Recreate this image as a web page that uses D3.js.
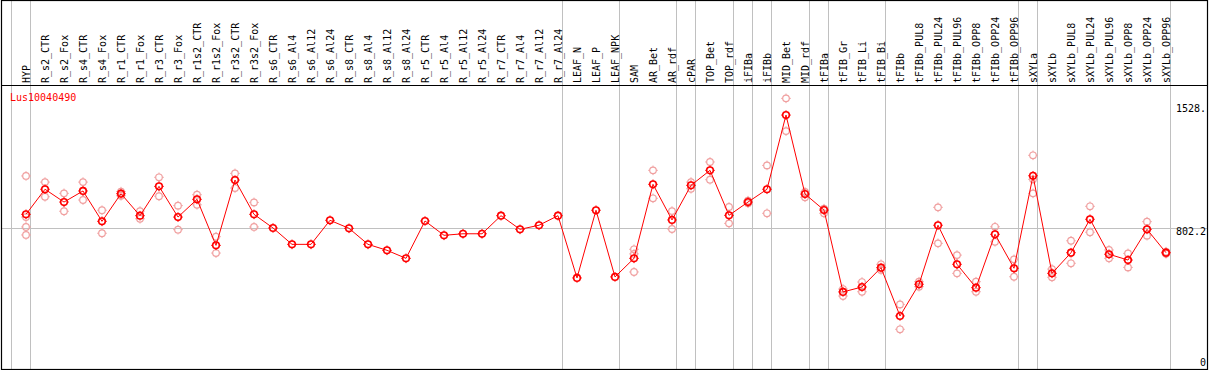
<!DOCTYPE html>
<html>
<head>
<meta charset="utf-8">
<script src="https://cdn.jsdelivr.net/npm/d3@7"></script>
<style>
  html, body { margin: 0; padding: 0; background: #fff; }
  svg { display: block; }
  text { font-family: "DejaVu Sans Mono", "Liberation Mono", monospace; }
</style>
</head>
<body>
<svg id="chart" width="1209" height="370"></svg>
<script>
const title = "Lus10040490";

const categories = ["HYP","R_s2_CTR","R_s2_Fox","R_s4_CTR","R_s4_Fox","R_r1_CTR","R_r1_Fox","R_r3_CTR","R_r3_Fox",
  "R_r1s2_CTR","R_r1s2_Fox","R_r3s2_CTR","R_r3s2_Fox","R_s6_CTR","R_s6_Al4","R_s6_Al12","R_s6_Al24",
  "R_s8_CTR","R_s8_Al4","R_s8_Al12","R_s8_Al24","R_r5_CTR","R_r5_Al4","R_r5_Al12","R_r5_Al24",
  "R_r7_CTR","R_r7_Al4","R_r7_Al12","R_r7_Al24","LEAF_N","LEAF_P","LEAF_NPK","SAM","AR_Bet","AR_rdf",
  "cPAR","TOP_Bet","TOP_rdf","iFIBa","iFIBb","MID_Bet","MID_rdf","tFIBa","tFIB_Gr","tFIB_Li","tFIB_Bi",
  "tFIBb","tFIBb_PUL8","tFIBb_PUL24","tFIBb_PUL96","tFIBb_OPP8","tFIBb_OPP24","tFIBb_OPP96",
  "sXYLa","sXYLb","sXYLb_PUL8","sXYLb_PUL24","sXYLb_PUL96","sXYLb_OPP8","sXYLb_OPP24","sXYLb_OPP96"];

const means = [884,1031,956,1021,843,1005,876,1048,868,
  972,702,1085,884,804,708,708,849,
  802,708,673,626,845,761,770,770,
  876,796,820,876,511,908,517,626,1060,851,
  1054,1142,878,956,1031,1466,1003,909,429,458,571,
  288,474,820,591,454,767,568,
  1110,538,659,855,650,616,796,659];

const replicates = [
  [1109,868,810,763],[1073,987],[1007,902],[1073,968],[908,773],[1017,993],[903,858],[1101,990],[935,794],
  [999,940],[753,657],[1124,1038],[954,810],[],[],[],[],
  [],[],[],[],[],[],[],[],
  [],[],[],[],[],[],[],[679,652,546],[1142,978],[903,798],
  [1073,1034],[1191,1087],[927,831],[964,949],[1171,890],[1564,1372],[1015,984],[917,890],[446,405],[487,430],[591,558],
  [356,210],[489,460],[925,714],[645,538],[489,430],[811,723],[620,518],
  [1230,1089,1007],[563,515],[729,597],[931,779],[675,626],[655,573],[841,759],[665,653]];

// indices of group boundaries (a separator is drawn before each of these columns)
const groupStarts = [0,1,29,32,35,36,38,39,40,42,43,46,53,54,61];

const tickValues = [0, 802.2, 1528];
const tickLabels = ["0", "802.2", "1528."];

(function draw() {
  const svg = d3.select("#chart");
  const fLeft = 1.5, fRight = 1207.5, fTop = 0.5, fBottom = 369.5, headerY = 85.5;

  const x = d3.scaleLinear().domain([0, categories.length - 1]).range([26, 1166]);
  const y = d3.scaleLinear().domain([0, 1528]).range([365.1, 104.5]);
  const crisp = v => Math.floor(v) + 0.5;

  // gray separators
  svg.append("g").selectAll("line").data(groupStarts).join("line")
    .attr("x1", d => crisp(x(d) - 14.5)).attr("x2", d => crisp(x(d) - 14.5))
    .attr("y1", 0).attr("y2", fBottom)
    .attr("stroke", "#c0c0c0").attr("stroke-width", 1);

  // horizontal grid at middle tick
  svg.append("g").selectAll("line").data(tickValues.filter(v => v > 0 && v < 1528)).join("line")
    .attr("x1", fLeft).attr("x2", fRight)
    .attr("y1", d => crisp(y(d))).attr("y2", d => crisp(y(d)))
    .attr("stroke", "#c0c0c0").attr("stroke-width", 1);

  // frame
  svg.append("rect").attr("x", fLeft).attr("y", fTop).attr("width", fRight - fLeft).attr("height", fBottom - fTop)
    .attr("fill", "none").attr("stroke", "#000").attr("stroke-width", 1.2);
  svg.append("line").attr("x1", fLeft).attr("x2", fRight).attr("y1", headerY).attr("y2", headerY)
    .attr("stroke", "#000").attr("stroke-width", 1.2);

  // category labels
  svg.append("g").selectAll("text").data(categories).join("text")
    .attr("transform", (d, i) => `translate(${x(i) + 3.5},83) rotate(-90)`)
    .attr("font-size", 10).attr("fill", "#000").attr("text-anchor", "start")
    .text(d => d);

  // title
  svg.append("text").attr("x", 10).attr("y", 101).attr("font-size", 10).attr("fill", "#ff0000").text(title);

  // y tick labels
  svg.append("g").selectAll("text").data(tickValues).join("text")
    .attr("x", 1206).attr("y", d => Math.min(y(d) + 7, 365.5))
    .attr("text-anchor", "end").attr("font-size", 10).attr("fill", "#000")
    .text((d, i) => tickLabels[i]);

  function marker(g, cx, cy, color, sw) {
    g.append("circle").attr("cx", cx).attr("cy", cy).attr("r", 3.3)
      .attr("fill", "none").attr("stroke", color).attr("stroke-width", sw);
    const t = 4.8, s = 3.3;
    [[0,-1],[0,1],[-1,0],[1,0]].forEach(([dx, dy]) => {
      g.append("line")
        .attr("x1", cx + dx * s).attr("y1", cy + dy * s)
        .attr("x2", cx + dx * t).attr("y2", cy + dy * t)
        .attr("stroke", color).attr("stroke-width", 1);
    });
  }

  // replicates
  const gRep = svg.append("g");
  replicates.forEach((reps, i) => reps.forEach(v => marker(gRep, x(i), y(v), "#f0a0a0", 1.2)));

  // mean line
  svg.append("path").datum(means)
    .attr("d", d3.line().x((d, i) => x(i)).y(d => y(d)))
    .attr("fill", "none").attr("stroke", "#ff0000").attr("stroke-width", 1);

  // mean markers
  const gMean = svg.append("g");
  means.forEach((v, i) => marker(gMean, x(i), y(v), "#ff0000", 1.6));
})();
</script>
</body>
</html>
